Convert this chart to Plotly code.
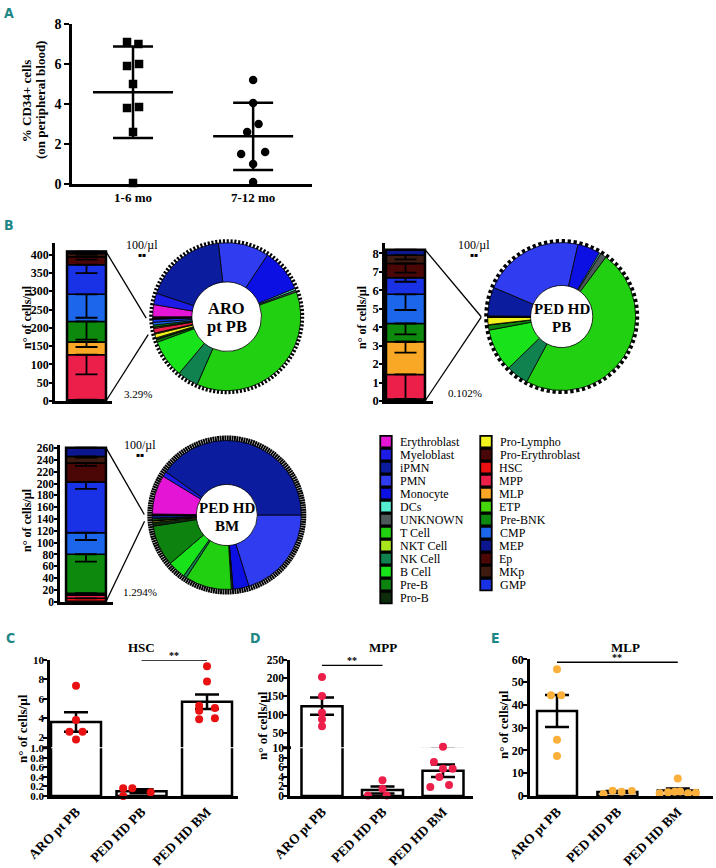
import numpy as np
import plotly.graph_objects as go

W, H = 716, 868
SERIF = "Liberation Serif, Times New Roman, serif"
SANS_C = "DejaVu Sans Condensed, DejaVu Sans, sans-serif"
TEAL = "#1f8786"

# ---------------- DATA ----------------
# Panel A
a_labels = ["1-6 mo", "7-12 mo"]
a_young = [7.1, 7.0, 5.9, 6.0, 5.0, 3.8, 3.85, 2.6, 0.05]
a_young_jit = [-0.05, 0.045, -0.05, 0.05, 0.0, -0.05, 0.05, 0.0, 0.0]
a_old = [5.2, 4.05, 3.0, 2.6, 1.5, 1.6, 1.0, 0.1]
a_old_jit = [0.0, 0.0, 0.045, -0.05, -0.1, 0.1, 0.0, 0.0]

# Panel B: progenitor stacks (cells/ul), bottom -> top
prog_types = ["HSC", "MPP", "MLP", "ETP", "Pre-BNK", "CMP", "GMP", "Ep", "MKp", "MEP"]
aro_prog = [3.6, 123, 35, 0, 56, 74, 81, 22, 9, 5]
aro_prog_sd = [0, 54, 14, 0, 50, 64, 23, 8, 3, 0]
pb_prog = [0.11, 1.33, 1.77, 0, 0.99, 1.58, 0.9, 0.77, 0.45, 0.3]
pb_prog_sd = [0, 1.42, 0.59, 0, 0.59, 0.85, 0.22, 0.5, 0.23, 0]
bm_prog = [5.7, 5.3, 2.4, 1.0, 66, 36.6, 86, 32, 11, 15]
bm_prog_sd = [0, 0, 0, 0, 12.4, 12.5, 12, 5, 2, 0]

# Panel B: whole-population pies (cells/ul), clockwise order
mature_head = ["PMN", "Monocyte", "DCs", "UNKNOWN", "T Cell", "NK Cell", "B Cell",
               "Pre-B", "Pro-B", "Pro-Lympho", "NKT Cell"]
mature_tail = ["Pro-Erythroblast", "Erythroblast", "Myeloblast", "iPMN"]
aro_head = [1378, 1171, 52, 52, 4580, 568, 1026, 69, 52, 103, 28]
aro_tail = [34, 327, 310, 2239]
pb_head = [1782, 400, 27, 107, 3830, 393, 748, 89, 7, 123, 7]
pb_tail = [4, 4, 7, 502]
bm_head = [4079, 695, 22, 56, 2039, 140, 784, 1793, 168, 56, 17]
bm_tail = [28, 1709, 224, 8113]
pie_names = [["ARO", "pt PB"], ["PED HD", "PB"], ["PED HD", "BM"]]
cd34_pct = ["3.29%", "0.102%", "1.294%"]
tick_unit = "100/µl"

legend_col1 = ["Erythroblast", "Myeloblast", "iPMN", "PMN", "Monocyte", "DCs", "UNKNOWN",
               "T Cell", "NKT Cell", "NK Cell", "B Cell", "Pre-B", "Pro-B"]
legend_col2 = ["Pro-Lympho", "Pro-Erythroblast", "HSC", "MPP", "MLP", "ETP", "Pre-BNK",
               "CMP", "MEP", "Ep", "MKp", "GMP"]

# Panels C-E
groups = ["ARO pt PB", "PED HD PB", "PED HD BM"]
hsc_pts = [[7.35, 3.8, 2.6, 2.6, 1.8], [0.16, 0.16, 0.08, 0.0], [9.36, 7.78, 5.28, 5.04, 4.77, 3.88, 3.98]]
hsc_jit = [[0, 0, -0.1, 0.1, 0], [-0.28, -0.14, 0.14, -0.28], [0, 0, -0.12, 0.12, -0.12, -0.12, 0.12]]
hsc_mean = [3.6, 0.1, 5.7]
hsc_sem = [1.0, 0.04, 0.75]
mpp_pts = [[203, 151, 105, 87, 68], [3.3, 1.5, 0.1, 0.1], [11, 7.1, 5.7, 5.7, 4.0, 2.3, 1.9]]
mpp_jit = [[0, 0, 0, 0, 0], [0.0, 0.0, -0.24, 0.07], [0, -0.15, 0, 0.16, -0.06, 0.1, -0.21]]
mpp_mean = [123, 1.25, 5.3]
mpp_sem = [24, 0.73, 1.3]
mlp_pts = [[55.6, 44.2, 44.2, 24.7, 17.6], [0.9, 2.3, 1.9, 2.2], [7.7, 1.2, 1.7, 1.9, 2.0, 1.2, 1.4]]
mlp_jit = [[0, -0.1, 0.07, 0, 0], [-0.23, -0.08, 0.07, 0.24], [0, -0.3, -0.16, -0.05, 0.04, 0.17, 0.3]]
mlp_mean = [37.3, 1.8, 2.4]
mlp_sem = [7.0, 0.35, 0.85]

colors = {
    "Erythroblast": "#e415d4", "Myeloblast": "#1c1ce6", "iPMN": "#0b1c9e", "PMN": "#2f3cf0",
    "Monocyte": "#0d10e3", "DCs": "#55ead2", "UNKNOWN": "#4e5a5a", "T Cell": "#22d012",
    "NKT Cell": "#aae61e", "NK Cell": "#0f8250", "B Cell": "#18e21a", "Pre-B": "#0e820e",
    "Pro-B": "#0c2c0c", "Pro-Lympho": "#f2f21e", "Pro-Erythroblast": "#4a0707", "HSC": "#e81010",
    "MPP": "#ec1f4b", "MLP": "#f9a825", "ETP": "#46d80a", "Pre-BNK": "#0d8a0d", "CMP": "#1c66ec",
    "MEP": "#0c168f", "Ep": "#4b0606", "MKp": "#3e1a10", "GMP": "#1a32e6",
}

# ---------------- HELPERS ----------------
fig = go.Figure()
layout = dict(width=W, height=H, margin=dict(l=0, r=0, t=0, b=0, autoexpand=False), paper_bgcolor="white",
              plot_bgcolor="rgba(0,0,0,0)", showlegend=False, barmode="overlay",
              font=dict(family=SERIF, color="black"))
annotations, shapes = [], []


def dx(a, b):
    return [a / W, b / W]


def dy(top, bottom):
    return [1 - bottom / H, 1 - top / H]


def tf(size):
    return dict(family=SERIF, size=size, color="black", weight="bold")


def axis(**kw):
    d = dict(showgrid=False, zeroline=False, showline=True, linecolor="black", linewidth=2.5,
             ticks="outside", ticklen=5, tickwidth=2, tickcolor="black", fixedrange=True, automargin=False)
    d.update(kw)
    return d


def ann(x, y, text, size=12, bold=True, family=SERIF, color="black", angle=0, **kw):
    a = dict(x=x / W, y=1 - y / H, xref="paper", yref="paper", text=text, showarrow=False,
             xanchor="center", yanchor="middle", textangle=angle,
             font=dict(family=family, size=size, color=color, weight="bold" if bold else "normal"))
    a.update(kw)
    annotations.append(a)


def to_px(v, rng, d0, d1):
    return d0 + (v - rng[0]) / (rng[1] - rng[0]) * (d1 - d0)


# ---------------- PANEL A ----------------
layout["xaxis"] = axis(domain=dx(72, 312), range=[-0.508, 1.49], tickvals=[0, 1], ticktext=a_labels,
                       ticks="", tickfont=tf(13), anchor="y")
layout["yaxis"] = axis(domain=dy(24, 184), range=[0, 8], dtick=2, tickfont=tf(14), anchor="x")
for gi, (vals, jit, sym) in enumerate([(a_young, a_young_jit, "square"), (a_old, a_old_jit, "circle")]):
    fig.add_trace(go.Scatter(x=[gi + j for j in jit], y=vals, mode="markers", cliponaxis=False,
                             marker=dict(symbol=sym, size=8.5, color="black"), xaxis="x", yaxis="y"))
    m = float(np.mean(vals))
    sd = float(np.std(vals, ddof=1))
    fig.add_trace(go.Scatter(x=[gi - 0.333, gi + 0.333], y=[m, m], mode="lines", cliponaxis=False,
                             line=dict(color="black", width=2.5), xaxis="x", yaxis="y"))
    fig.add_trace(go.Scatter(x=[gi], y=[m], mode="markers", cliponaxis=False,
                             marker=dict(size=1, color="rgba(0,0,0,0)"),
                             error_y=dict(type="data", array=[sd], color="black", thickness=2.5, width=20),
                             xaxis="x", yaxis="y"))
ann(26.7, 100.5, "% CD34+ cells", 13, angle=-90)
ann(40.5, 100.5, "(on peripheral blood)", 13, angle=-90)
ann(9, 13, "A", 14, family=SANS_C, color=TEAL)

# ---------------- PANEL B: stacked bars ----------------
bar_geo = [
    dict(xa="x2", ya="y2", xd=(55, 112), xr=[-0.566, 0.458], yd=(243, 401), yr=[0, 432], dtick=50, fs=12),
    dict(xa="x3", ya="y3", xd=(385, 433), xr=[-0.368, 0.494], yd=(243, 401), yr=[0, 8.56], dtick=1, fs=12.5),
    dict(xa="x4", ya="y4", xd=(60, 113), xr=[-0.456, 0.474], yd=(445, 601.7), yr=[0, 265.5], dtick=20, fs=11.5),
]
stacks = [(aro_prog, aro_prog_sd), (pb_prog, pb_prog_sd), (bm_prog, bm_prog_sd)]
BW = 0.7
for g, (vals, sds) in zip(bar_geo, stacks):
    n = g["xa"][1:]
    layout["xaxis" + n] = axis(domain=dx(*g["xd"]), range=g["xr"], showticklabels=False, ticks="",
                               anchor=g["ya"])
    layout["yaxis" + n] = axis(domain=dy(*g["yd"]), range=g["yr"], dtick=g["dtick"], tickfont=tf(g["fs"]),
                               anchor=g["xa"], ticklen=3, tickwidth=1.5, ticklabelstandoff=-2)
    cum = np.cumsum(vals)
    base = cum - np.array(vals)
    for t, v, b in zip(prog_types, vals, base):
        if v <= 0:
            continue
        fig.add_trace(go.Bar(x=[0], y=[v], base=[b], width=BW, xaxis=g["xa"], yaxis=g["ya"],
                             marker=dict(color=colors[t], line=dict(color="black", width=1.5))))
    fig.add_trace(go.Scatter(x=[0] * len(vals), y=cum, mode="markers", xaxis=g["xa"], yaxis=g["ya"],
                             marker=dict(size=1, color="rgba(0,0,0,0)"),
                             error_y=dict(type="data", symmetric=False, array=[0] * len(vals), arrayminus=sds,
                                          color="black", thickness=1.8, width=11)))
    fig.add_trace(go.Bar(x=[0], y=[cum[-1]], base=[0], width=BW, xaxis=g["xa"], yaxis=g["ya"],
                         marker=dict(color="rgba(0,0,0,0)", line=dict(color="black", width=2.5))))

ann(27, 317, "n° of cells/µl", 12, angle=-90)
ann(362, 317, "n° of cells/µl", 12, angle=-90)
ann(27, 520, "n° of cells/µl", 12, angle=-90)
ann(9, 225, "B", 14, family=SANS_C, color=TEAL)

# ---------------- PANEL B: pies ----------------
pie_geo = [
    dict(cx=226.7, cy=316.7, r=74, rr=77.5, hole=0.47, lbl=(308, 327), fs=16.5, pct=(138, 394), unit=(142, 245),
         tick_frac=0.55),
    dict(cx=561.7, cy=316.5, r=74, rr=77.5, hole=0.42, lbl=(309, 327), fs=15, pct=(465, 393), unit=(474, 245),
         tick_frac=0.55),
    dict(cx=226.8, cy=515, r=74.5, rr=79.5, hole=0.41, lbl=(508, 526), fs=15, pct=(140, 592), unit=(140, 445),
         tick_frac=0.8),
]
pie_rotation = [353.5, 293, 90]
pies = [(aro_head, aro_prog, aro_tail), (pb_head, pb_prog, pb_tail), (bm_head, bm_prog, bm_tail)]
labels_all = mature_head + prog_types + mature_tail
for k, (pg, (head, prog, tail), rot, bg) in enumerate(zip(pie_geo, pies, pie_rotation, bar_geo)):
    vals = list(head) + list(prog) + list(tail)
    total = float(sum(vals))
    n_ticks = int(round(total / 100))
    cx, cy, r, rr = pg["cx"], pg["cy"], pg["r"], pg["rr"]
    tfr = pg["tick_frac"]
    # tick ring (each tick = 100 cells/ul)
    fig.add_trace(go.Pie(values=[tfr, 1 - tfr] * n_ticks,
                         marker=dict(colors=["black", "rgba(0,0,0,0)"] * n_ticks, line=dict(width=0)),
                         sort=False, direction="clockwise", rotation=0, hole=(r - 1) / rr, textinfo="none",
                         hoverinfo="skip", domain=dict(x=dx(cx - rr, cx + rr), y=dy(cy - rr, cy + rr))))
    fig.add_trace(go.Pie(labels=labels_all, values=vals, marker=dict(colors=[colors[l] for l in labels_all],
                                                                     line=dict(color="black", width=0.8)),
                         sort=False, direction="clockwise", rotation=rot, hole=pg["hole"], textinfo="none",
                         domain=dict(x=dx(cx - r, cx + r), y=dy(cy - r, cy + r))))
    # zoom lines from the stacked bar to the progenitor slices
    a0 = np.radians(rot + 360 * sum(head) / total)
    a1 = np.radians(rot + 360 * (sum(head) + sum(prog)) / total)
    rl = rr + 3
    bar_right = to_px(BW / 2, bg["xr"], *bg["xd"])
    bar_top = to_px(sum(prog), bg["yr"], bg["yd"][1], bg["yd"][0])
    bar_bot = to_px(0, bg["yr"], bg["yd"][1], bg["yd"][0])
    for (bx, by), ang in [((bar_right, bar_top), a1), ((bar_right, bar_bot), a0)]:
        ex, ey = cx + rl * np.sin(ang), cy - rl * np.cos(ang)
        shapes.append(dict(type="line", xref="paper", yref="paper", x0=bx / W, y0=1 - by / H,
                           x1=ex / W, y1=1 - ey / H, line=dict(color="black", width=1.3)))
    ann(cx, pg["lbl"][0], pie_names[k][0], pg["fs"])
    ann(cx, pg["lbl"][1], pie_names[k][1], pg["fs"])
    ann(pg["pct"][0], pg["pct"][1], cd34_pct[k], 11, bold=False)
    ann(pg["unit"][0], pg["unit"][1], tick_unit, 12, bold=False)
    ann(pg["unit"][0], pg["unit"][1] + 9, "▪▪", 6, bold=False, family="DejaVu Sans")

# ---------------- LEGEND ----------------
layout["xaxis11"] = dict(domain=[0, 1], range=[0, W], visible=False, fixedrange=True, anchor="y11",
                         automargin=False)
layout["yaxis11"] = dict(domain=[0, 1], range=[H, 0], visible=False, fixedrange=True, anchor="x11",
                         automargin=False)
leg_x, leg_y, leg_dx, leg_dy = [386, 486], 441.7, 11.5, 13
for ci, col in enumerate([legend_col1, legend_col2]):
    xs = [leg_x[ci]] * len(col)
    ys = [leg_y + i * leg_dy for i in range(len(col))]
    fig.add_trace(go.Scatter(x=xs, y=ys, mode="markers", cliponaxis=False, xaxis="x11", yaxis="y11",
                             marker=dict(symbol="square", size=11.5, color=[colors[c] for c in col],
                                         line=dict(color="black", width=1.8))))
    for c, yy in zip(col, ys):
        ann(leg_x[ci] + leg_dx, yy, c, 12, bold=False, xanchor="left")

# ---------------- PANELS C-E ----------------
panels = [
    dict(name="HSC", xa="x6", lo="y6", hi="y7", xd=(50, 238), xr=[-0.397, 2.473], bw=0.763,
         brk=1.0, lo_r=[0, 1.0], hi_r=[1.0, 10], lo_t=[0, 0.2, 0.4, 0.6, 0.8, 1.0], hi_t=[2, 4, 6, 8, 10],
         fmt=".1f", pts=hsc_pts, jit=hsc_jit, mean=hsc_mean, sem=hsc_sem, col=colors["HSC"], yfs=11,
         sig=(1, 2, 10), title=(141.7, 647), letter=(10, 638), ytl=(22, 729)),
    dict(name="MPP", xa="x8", lo="y8", hi="y9", xd=(290, 473), xr=[-0.529, 2.496], bw=0.678,
         brk=10, lo_r=[0, 10], hi_r=[10, 250], lo_t=[0, 2, 4, 6, 8, 10], hi_t=[50, 100, 150, 200, 250],
         fmt="d", pts=mpp_pts, jit=mpp_jit, mean=mpp_mean, sem=mpp_sem, col=colors["MPP"], yfs=11.5,
         sig=(0, 1, 235), title=(383, 647), letter=(255, 638), ytl=(262, 726)),
    dict(name="MLP", xa="x10", lo="y10", hi=None, xd=(530, 713), xr=[-0.447, 2.583], bw=0.662,
         brk=None, lo_r=[0, 60], hi_r=None, lo_t=[0, 10, 20, 30, 40, 50, 60], hi_t=None,
         fmt="d", pts=mlp_pts, jit=mlp_jit, mean=mlp_mean, sem=mlp_sem, col="#fbb03b", yfs=12,
         sig=(0, 2, 58.7), title=(625, 647), letter=(495, 638), ytl=(503, 725)),
]
for pi, p in enumerate(panels):
    n = p["xa"][1:]
    layout["xaxis" + n] = axis(domain=dx(*p["xd"]), range=p["xr"], tickvals=[0, 1, 2], ticktext=groups,
                               tickangle=-45, ticks="", tickfont=tf(13.5), anchor=p["lo"])
    if p["hi"]:
        lo_dom, hi_dom = dy(748.2, 796), dy(660, 747.2)
    else:
        lo_dom = dy(659.3, 796)
    yk = dict(ticklen=4, ticklabelstandoff=-3, tickfont=tf(p["yfs"]), anchor=p["xa"])
    layout["yaxis" + p["lo"][1:]] = axis(domain=lo_dom, range=p["lo_r"], tickvals=p["lo_t"],
                                         tickformat=p["fmt"], **yk)
    subplots = [p["lo"]]
    if p["hi"]:
        layout["yaxis" + p["hi"][1:]] = axis(domain=hi_dom, range=p["hi_r"], tickvals=p["hi_t"], **yk)
        subplots.append(p["hi"])
    for ya in subplots:
        fig.add_trace(go.Bar(x=[0, 1, 2], y=p["mean"], width=p["bw"], xaxis=p["xa"], yaxis=ya, cliponaxis=True,
                             marker=dict(color="white", line=dict(color="black", width=2.5)),
                             error_y=dict(type="data", array=p["sem"], color="black", thickness=2.5, width=12)))
    xs, ys = [], []
    for gi, (vals, js) in enumerate(zip(p["pts"], p["jit"])):
        for v, j in zip(vals, js):
            xs.append(gi + j)
            ys.append(v)
    xs, ys = np.array(xs), np.array(ys)
    if p["hi"]:
        sel = ys <= p["brk"]
        parts = [(p["lo"], sel), (p["hi"], ~sel)]
    else:
        parts = [(p["lo"], np.ones(len(ys), bool))]
    for ya, m in parts:
        fig.add_trace(go.Scatter(x=xs[m], y=ys[m], mode="markers", cliponaxis=False, xaxis=p["xa"], yaxis=ya,
                                 marker=dict(size=8, color=p["col"])))
    # significance bracket
    sx0, sx1, sy = p["sig"]
    sig_ya = p["hi"] if p["hi"] else p["lo"]
    shapes.append(dict(type="line", xref=p["xa"], yref=sig_ya, x0=sx0, x1=sx1, y0=sy, y1=sy,
                       line=dict(color="black", width=1.3)))
    annotations.append(dict(x=(sx0 + sx1) / 2, y=sy, xref=p["xa"], yref=sig_ya, text="**", showarrow=False,
                            xanchor="center", yanchor="bottom", yshift=-3,
                            font=dict(family=SERIF, size=10, color="black", weight="bold")))
    # axis break mark
    if p["hi"]:
        yb = 747.7
        xl = p["xd"][0]
        shapes.append(dict(type="line", xref="paper", yref="paper", x0=(xl - 7) / W, x1=(xl + 1) / W,
                           y0=1 - yb / H, y1=1 - yb / H, line=dict(color="black", width=3)))
    ann(p["title"][0], p["title"][1], p["name"], 13)
    ann(p["letter"][0], p["letter"][1], "CDE"[pi], 14, family=SANS_C, color=TEAL)
    ann(p["ytl"][0], p["ytl"][1], "n° of cells/µl", 13, angle=-90)

for tr in fig.data:
    tr.showlegend = False
    if tr.type != "pie":
        tr.hoverinfo = "skip"

layout["annotations"] = annotations
layout["shapes"] = shapes
fig.update_layout(**layout)
fig.write_html("out.html", config={"displayModeBar": False},
               post_script="document.body.style.margin='0';document.body.style.padding='0';")
